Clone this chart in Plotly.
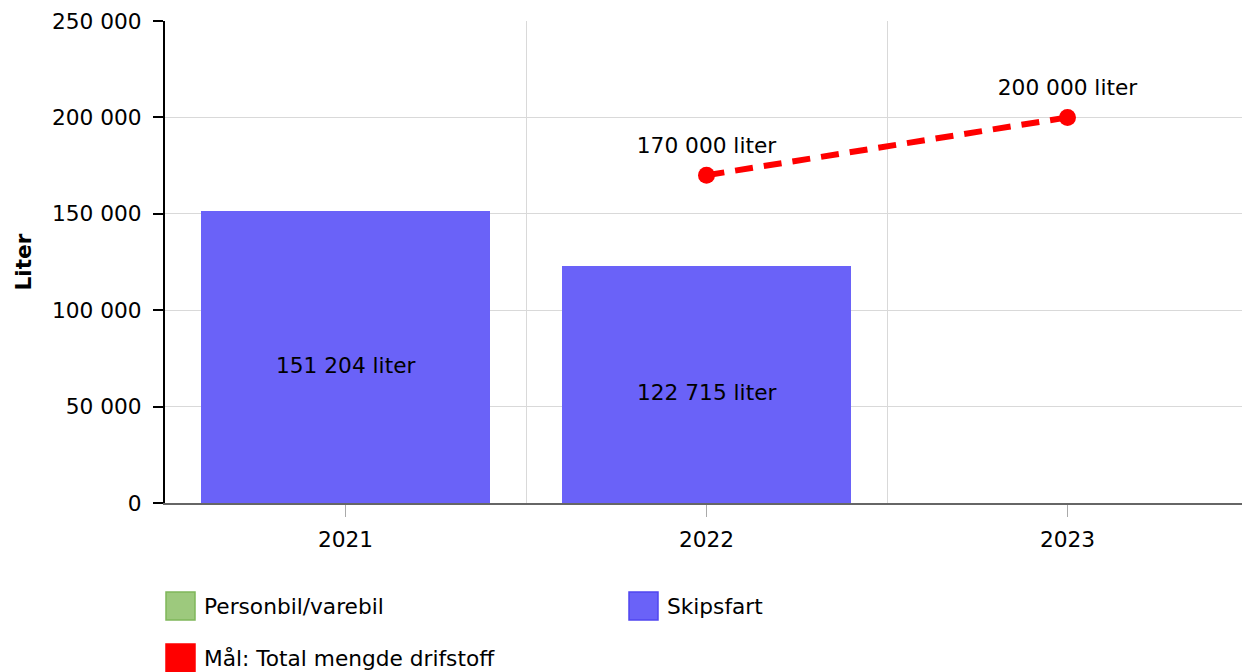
import plotly.graph_objects as go

years = [2021, 2022, 2023]
personbil = [0, 0, 0]
skipsfart = [151204, 122715, None]
maal_years = [2022, 2023]
maal_values = [170000, 200000]
y_ticks = [0, 50000, 100000, 150000, 200000, 250000]

FONT = "DejaVu Sans"
FS = 21.7
GREEN = "rgb(157,201,125)"
GREEN_LINE = "rgb(127,183,90)"
BLUE = "rgb(106,98,248)"
BLUE_LINE = "rgb(80,70,240)"
RED = "rgb(255,0,0)"


def fmt(v):
    return f"{v:,} liter".replace(",", " ")


fig = go.Figure()
fig.add_trace(go.Bar(x=years, y=personbil, name="Personbil/varebil",
                     marker=dict(color=GREEN, line=dict(width=0)), width=0.8,
                     showlegend=False, hoverinfo="skip"))
fig.add_trace(go.Bar(x=years, y=skipsfart, name="Skipsfart",
                     marker=dict(color=BLUE, line=dict(width=0)), width=0.8,
                     showlegend=False))
# bar value labels, centered slightly below mid-height like the reference
for yr, v in zip(years, skipsfart):
    if v is not None:
        fig.add_annotation(x=yr, y=v / 2, text=fmt(v), showarrow=False,
                           yshift=-8, font=dict(family=FONT, size=FS, color="black"))

fig.add_trace(go.Scatter(x=maal_years, y=maal_values, name="Mål: Total mengde drifstoff",
                         mode="lines+markers",
                         line=dict(color=RED, width=6, dash="18px,11px"),
                         marker=dict(color=RED, size=17),
                         showlegend=False))
fig.add_trace(go.Scatter(x=maal_years, y=maal_values, mode="markers+text",
                         marker=dict(color="rgba(0,0,0,0)", size=26),
                         text=[fmt(v) for v in maal_values],
                         textposition="top center",
                         textfont=dict(family=FONT, size=FS, color="black"),
                         showlegend=False, hoverinfo="skip"))

# manual legend (large square swatches)
legend_items = [
    ("Personbil/varebil", GREEN, GREEN_LINE, 165, 606),
    ("Skipsfart", BLUE, BLUE_LINE, 628, 606),
    ("Mål: Total mengde drifstoff", RED, RED, 165, 658),
]
W, H = 1242, 672
for label, fill, edge, px, py in legend_items:
    fig.add_shape(type="rect", xref="paper", yref="paper",
                  x0=(px - 165 + 1) / (W - 165), x1=(px - 165 + 30) / (W - 165),
                  y0=(503 - (py + 14)) / (503 - 21), y1=(503 - (py - 14)) / (503 - 21),
                  fillcolor=fill, line=dict(color=edge, width=1.5), layer="above")
    fig.add_annotation(xref="paper", yref="paper",
                       x=(px - 165 + 37) / (W - 165), y=(503 - py) / (503 - 21),
                       text=label, showarrow=False, xanchor="left", yanchor="middle",
                       font=dict(family=FONT, size=FS, color="black"))

fig.update_layout(
    width=W, height=H,
    margin=dict(l=165, r=0, t=21, b=169),
    barmode="stack",
    plot_bgcolor="white", paper_bgcolor="white",
    separators=", ",
    font=dict(family=FONT, size=FS, color="black"),
    showlegend=False,
    bargap=0.2,
)
fig.update_xaxes(
    range=[2020.5, 2020.5 + 1077 / 361],
    tickvals=years, ticktext=[str(y) for y in years],
    showgrid=False, zeroline=False,
    showline=True, linecolor="#666666", linewidth=2,
    ticks="outside", ticklen=12, tickcolor="#aaaaaa", tickwidth=1,
    ticklabelstandoff=4,
    minor=dict(tickvals=[2021.5, 2022.5], showgrid=True, gridcolor="#d9d9d9",
               gridwidth=1, ticks=""),
    tickfont=dict(family=FONT, size=FS, color="black"),
)
fig.update_yaxes(
    range=[0, 250000], tickvals=y_ticks,
    tickformat=",",
    showgrid=True, gridcolor="#d9d9d9", gridwidth=1,
    zeroline=False,
    showline=True, linecolor="black", linewidth=2,
    ticks="outside", ticklen=10, tickcolor="black", tickwidth=2,
    ticklabelstandoff=7,
    title=dict(text="<b>Liter</b>", standoff=14,
               font=dict(family=FONT, size=FS, color="black")),
    tickfont=dict(family=FONT, size=FS, color="black"),
    automargin=False,
)

fig.write_html("out.html", config={"displayModeBar": False},
               post_script="document.body.style.margin='0';")
